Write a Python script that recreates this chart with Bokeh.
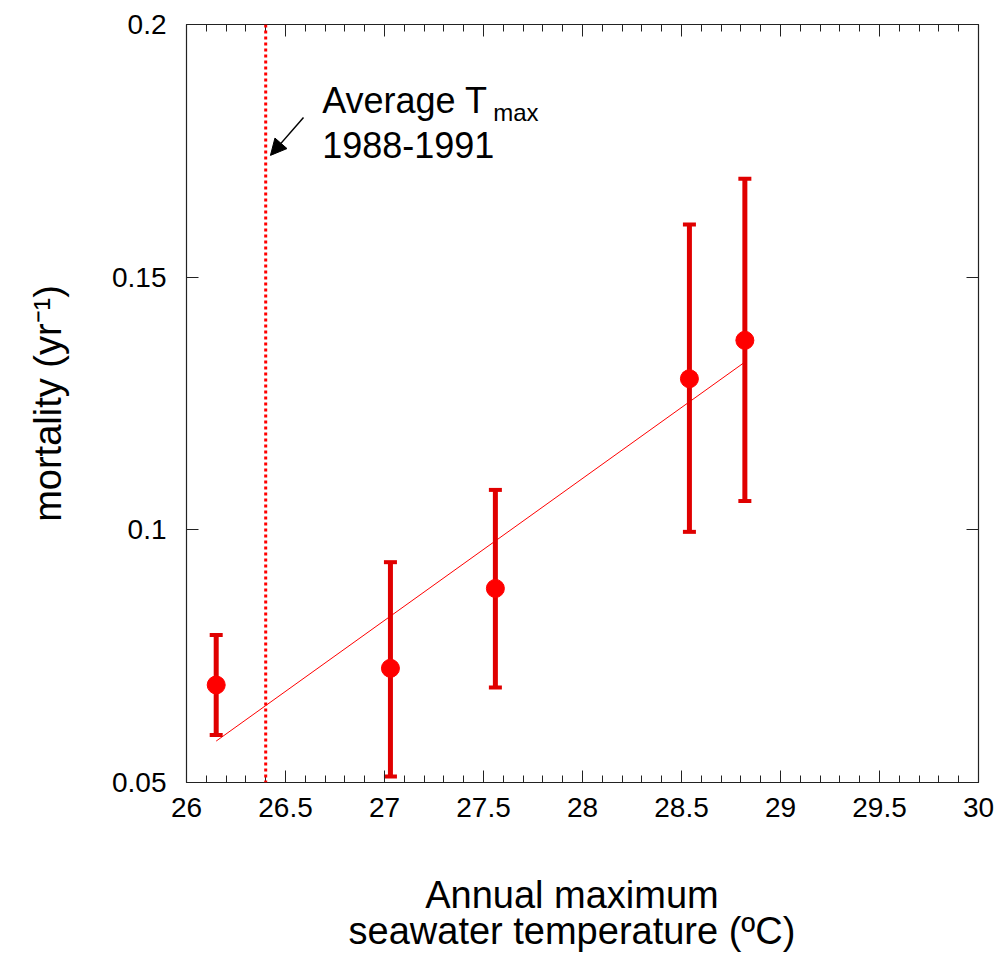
from bokeh.plotting import figure
from bokeh.models import (ColumnDataSource, Range1d, LinearAxis, FixedTicker,
                          NumeralTickFormatter, Span, Label, Arrow, NormalHead)
from bokeh.embed import file_html
from bokeh.resources import INLINE
import numpy as np

# ---- data ----
temp = [26.15, 27.03, 27.56, 28.54, 28.82]
mortality = [0.0693, 0.0726, 0.0884, 0.1299, 0.1375]
err_upper = [0.0792, 0.0936, 0.1079, 0.1604, 0.1695]
err_lower = [0.0594, 0.0512, 0.0688, 0.0996, 0.1057]
fit_x = [26.15, 28.82]
fit_y = [0.0582, 0.1332]
avg_tmax = 26.4
x_ticks = [26, 26.5, 27, 27.5, 28, 28.5, 29, 29.5, 30]
y_ticks = [0.05, 0.1, 0.15, 0.2]
x_minor = [float(v) for v in np.round(np.arange(26.0, 30.001, 0.1), 1)]

FONT = "Liberation Sans"
BAR = "#e00000"
DOT = "#ff0000"
AXC = "#222222"

src = ColumnDataSource(dict(temp=temp, mortality=mortality, upper=err_upper, lower=err_lower))

p = figure(width=996, height=955, output_backend="svg", toolbar_location=None,
           x_range=Range1d(26, 30), y_range=Range1d(0.05, 0.2),
           min_border_left=186, min_border_right=18, min_border_top=24, min_border_bottom=173,
           x_axis_label="Annual maximum\u00a0\u00a0\nseawater temperature (\u00baC)\u00a0\u00a0",
           y_axis_label="mortality (yr\u207b\u00b9)")
p.outline_line_color = None
p.xgrid.grid_line_color = None
p.ygrid.grid_line_color = None
p.background_fill_color = "white"
p.border_fill_color = "white"

xt = FixedTicker(ticks=x_ticks, minor_ticks=x_minor)
yt = FixedTicker(ticks=y_ticks, minor_ticks=[])


def style(ax, labels=True):
    ax.axis_line_color = AXC
    ax.axis_line_width = 1.2
    ax.major_tick_line_color = AXC
    ax.minor_tick_line_color = AXC
    ax.major_tick_in = 12
    ax.major_tick_out = 0
    ax.minor_tick_in = 7
    ax.minor_tick_out = 0
    if labels:
        ax.major_label_text_font = FONT
        ax.major_label_text_font_size = "28px"
        ax.major_label_text_color = "black"
        ax.axis_label_text_font = FONT
        ax.axis_label_text_font_size = "38px"
        ax.axis_label_text_font_style = "normal"
        ax.axis_label_text_color = "black"
    else:
        ax.major_label_text_font_size = "1px"
        ax.major_label_text_color = None
        ax.major_label_standoff = 0
        ax.axis_label = None


xa = p.xaxis[0]
xa.ticker = xt
xa.formatter = NumeralTickFormatter(format="0.[0]")
style(xa)
xa.major_label_standoff = 15
xa.axis_label_standoff = 54
xa.axis_label_text_line_height = 0.86

ya = p.yaxis[0]
ya.ticker = yt
ya.formatter = NumeralTickFormatter(format="0.[00]")
style(ya)
ya.major_label_standoff = 20
ya.axis_label_standoff = 40

top = LinearAxis(ticker=xt)
style(top, labels=False)
p.add_layout(top, "above")
right = LinearAxis(ticker=yt)
style(right, labels=False)
p.add_layout(right, "right")

# fit line
p.line(fit_x, fit_y, line_color=DOT, line_width=1)

# error bars
p.segment(x0="temp", y0="lower", x1="temp", y1="upper", source=src,
          line_color=BAR, line_width=5)
p.scatter(x="temp", y="upper", source=src, marker="dash", size=13,
          line_color=BAR, line_width=4)
p.scatter(x="temp", y="lower", source=src, marker="dash", size=13,
          line_color=BAR, line_width=4)

# points
p.scatter(x="temp", y="mortality", source=src, marker="circle", size=18,
          fill_color=DOT, line_color=DOT)

# average Tmax line
p.add_layout(Span(location=avg_tmax, dimension="height", line_color=DOT,
                  line_width=3, line_dash="3 3"))

# annotation
p.add_layout(Label(x=26.685, y=0.1850, text="Average T", text_font=FONT,
                   text_font_size="36px", text_baseline="alphabetic", text_color="black"))
p.add_layout(Label(x=27.549, y=0.1826, text="max", text_font=FONT,
                   text_font_size="24px", text_baseline="alphabetic", text_color="black"))
p.add_layout(Label(x=26.685, y=0.1761, text="1988-1991", text_font=FONT,
                   text_font_size="36px", text_baseline="alphabetic", text_color="black"))
p.add_layout(Arrow(x_start=26.591, y_start=0.1816, x_end=26.424, y_end=0.1741,
                   line_color="black", line_width=1.5,
                   end=NormalHead(size=16, fill_color="black", line_color="black")))

open("out.html", "w").write(file_html(p, INLINE))
